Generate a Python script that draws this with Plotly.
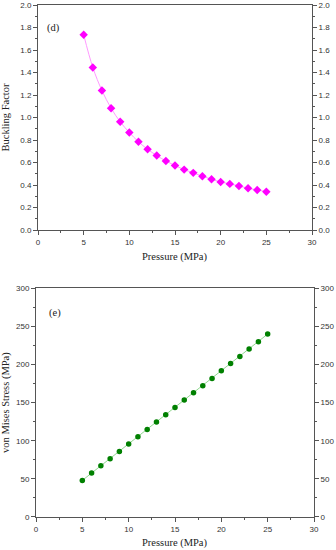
import plotly.graph_objects as go

pressure = [5, 6, 7, 8, 9, 10, 11, 12, 13, 14, 15, 16, 17, 18, 19, 20, 21, 22, 23, 24, 25]
buckling = [1.736, 1.445, 1.240, 1.083, 0.962, 0.867, 0.784, 0.718, 0.662, 0.614, 0.573,
            0.537, 0.508, 0.478, 0.451, 0.427, 0.410, 0.392, 0.371, 0.356, 0.341]
von_mises = [48.0, 57.6, 67.2, 76.4, 86.0, 95.6, 105.2, 114.8, 124.5, 134.0, 143.6,
             153.3, 162.9, 172.0, 181.6, 191.7, 201.3, 210.5, 220.2, 229.8, 239.8]
x_title = "Pressure (MPa)"

axis_col = "#555555"
tick_font = dict(family="Liberation Sans, Arial", size=8, color="#333333")
title_font = dict(family="Liberation Serif, Times New Roman", size=10.5, color="#222222")

fig = go.Figure()
fig.add_trace(go.Scatter(x=pressure, y=buckling, mode="lines+markers",
                         line=dict(color="#FF99FF", width=1, shape="spline"),
                         marker=dict(symbol="diamond", size=6.5, color="#FF00FF"),
                         xaxis="x", yaxis="y", showlegend=False))
fig.add_trace(go.Scatter(x=pressure, y=von_mises, mode="lines+markers",
                         line=dict(color="#90D890", width=1),
                         marker=dict(symbol="circle", size=5.5, color="#008000"),
                         xaxis="x2", yaxis="y2", showlegend=False))

def xax(domain, anchor):
    return dict(domain=domain, anchor=anchor, range=[0, 30], dtick=5, showline=True,
                linecolor=axis_col, linewidth=1, mirror=True, ticks="outside", ticklen=4,
                tickcolor=axis_col, showgrid=False, zeroline=False, tickfont=tick_font,
                automargin=False,
                minor=dict(ticks="outside", ticklen=2, dtick=2.5, tickcolor=axis_col))

def yax(domain, anchor, rng, dtick, mdtick, title=None, side="left", overlaying=None, fmt=None):
    d = dict(domain=domain, anchor=anchor, range=rng, dtick=dtick, showline=True,
             linecolor=axis_col, linewidth=1, ticks="outside", ticklen=4, tickcolor=axis_col,
             showgrid=False, zeroline=False, tickfont=tick_font, side=side, automargin=False,
             minor=dict(ticks="outside", ticklen=2, dtick=mdtick, tickcolor=axis_col))
    if fmt:
        d["tickformat"] = fmt
    if title:
        d["title"] = dict(text=title, font=title_font)
    if overlaying:
        d["overlaying"] = overlaying
    return d

top_dom = [0.5605, 1.0]
bot_dom = [0.0, 0.447]

fig.update_layout(
    width=336, height=550,
    margin=dict(l=36, r=22, t=5, b=33, autoexpand=False),
    paper_bgcolor="white", plot_bgcolor="white",
    xaxis=xax([0.0072, 0.9928], "y"),
    xaxis2=xax([0, 1], "y2"),
    yaxis=yax(top_dom, "x", [0, 2.0], 0.2, 0.1, "Buckling Factor", fmt=".1f"),
    yaxis3=yax(top_dom, "x", [0, 2.0], 0.2, 0.1, side="right", overlaying="y", fmt=".1f"),
    yaxis2=yax(bot_dom, "x2", [0, 300], 50, 25, "von Mises Stress (MPa)"),
    yaxis4=yax(bot_dom, "x2", [0, 300], 50, 25, side="right", overlaying="y2"),
    annotations=[
        dict(text="(d)", x=1.7, y=1.8, xref="x", yref="y", showarrow=False, font=title_font),
        dict(text="(e)", x=2.0, y=267, xref="x2", yref="y2", showarrow=False, font=title_font),
        dict(text=x_title, x=0.5, y=-0.12, xref="x domain", yref="y domain",
             showarrow=False, yanchor="middle", font=title_font),
        dict(text=x_title, x=0.5, y=-0.1135, xref="x2 domain", yref="y2 domain",
             showarrow=False, yanchor="middle", font=title_font),
    ],
)
# dummy traces so the right axes render
fig.add_trace(go.Scatter(x=[None], y=[None], xaxis="x", yaxis="y3", showlegend=False))
fig.add_trace(go.Scatter(x=[None], y=[None], xaxis="x2", yaxis="y4", showlegend=False))

fig.write_html("out.html", config={"displayModeBar": False},
               post_script="document.body.style.margin='0';")
